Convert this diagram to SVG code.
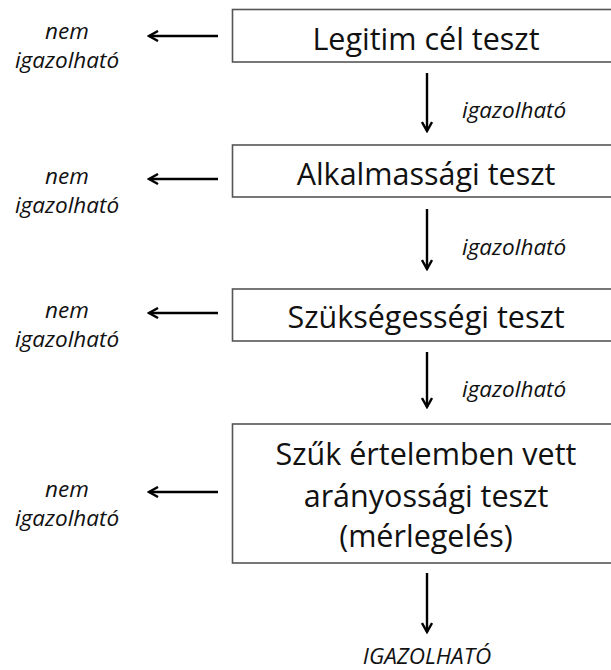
<svg xmlns="http://www.w3.org/2000/svg" width="611" height="670" viewBox="0 0 611 670">
<style>
.box{fill:#fff;stroke:#555;stroke-width:1.6}
.t{font-family:"Open Sans","Liberation Sans",sans-serif;font-size:30.5px;fill:#111;text-anchor:middle}
.lbl{font-family:"Open Sans","Liberation Sans",sans-serif;font-size:22.5px;font-style:italic;fill:#111}
.mid{text-anchor:middle}
.arr{stroke:#000;stroke-width:2.4;fill:none;marker-end:url(#ah)}
</style>
<defs>
<marker id="ah" viewBox="0 0 12 12" refX="10" refY="6" markerWidth="12" markerHeight="12" markerUnits="userSpaceOnUse" orient="auto">
<path d="M1,1 L10,6 L1,11" fill="none" stroke="#000" stroke-width="2.4"/>
</marker>
</defs>
<rect width="611" height="670" fill="#fff"/>
<g id="connectors">
<line class="arr" x1="427" y1="73" x2="427" y2="131"/>
<line class="arr" x1="427" y1="209" x2="427" y2="269"/>
<line class="arr" x1="427" y1="352" x2="427" y2="407"/>
<line class="arr" x1="427" y1="573" x2="427" y2="632"/>
<line class="arr" x1="218" y1="36" x2="149" y2="36"/>
<line class="arr" x1="218" y1="179" x2="149" y2="179"/>
<line class="arr" x1="218" y1="313" x2="149" y2="313"/>
<line class="arr" x1="218" y1="492" x2="149" y2="492"/>
<text class="lbl" x="462" y="118">igazolható</text>
<text class="lbl" x="462" y="255">igazolható</text>
<text class="lbl" x="462" y="397">igazolható</text>
</g>
<g id="n1">
<rect class="box" x="232.5" y="9.5" width="400" height="52.5"/>
<text class="t" x="426" y="50">Legitim cél teszt</text>
</g>
<g id="n2">
<rect class="box" x="232.5" y="145" width="400" height="52"/>
<text class="t" x="426" y="185">Alkalmassági teszt</text>
</g>
<g id="n3">
<rect class="box" x="232.5" y="289" width="400" height="52"/>
<text class="t" x="426" y="328">Szükségességi teszt</text>
</g>
<g id="n4">
<rect class="box" x="232.5" y="424" width="400" height="139"/>
<text class="t" x="426" y="465">Szűk értelemben vett</text>
<text class="t" x="426" y="507">arányossági teszt</text>
<text class="t" x="426" y="547">(mérlegelés)</text>
</g>
<g id="r1"><text class="lbl mid" x="67" y="39">nem</text><text class="lbl mid" x="67" y="68">igazolható</text></g>
<g id="r2"><text class="lbl mid" x="67" y="184">nem</text><text class="lbl mid" x="67" y="213">igazolható</text></g>
<g id="r3"><text class="lbl mid" x="67" y="318">nem</text><text class="lbl mid" x="67" y="347">igazolható</text></g>
<g id="r4"><text class="lbl mid" x="67" y="497">nem</text><text class="lbl mid" x="67" y="526">igazolható</text></g>
<g id="end"><text class="lbl mid" x="427" y="664">IGAZOLHATÓ</text></g>
</svg>
